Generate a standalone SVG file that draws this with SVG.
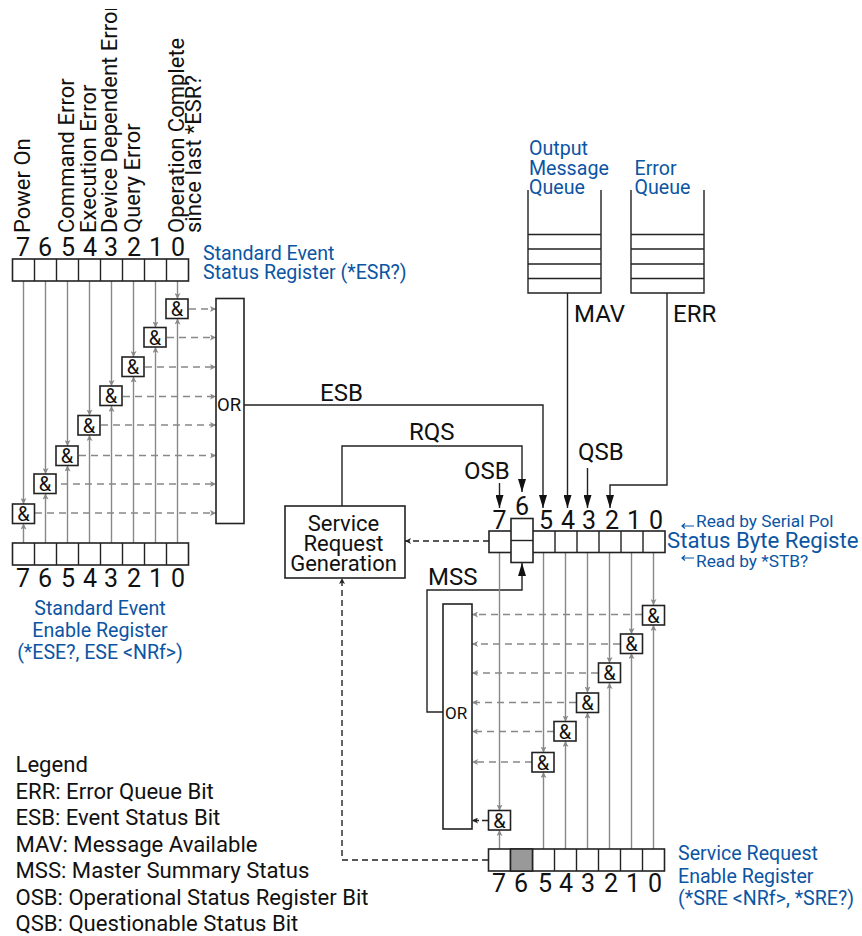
<svg xmlns="http://www.w3.org/2000/svg" width="862" height="936" viewBox="0 0 862 936">
<style>
text{font-family:Roboto,"Liberation Sans",sans-serif;fill:#111}
.n{font-size:25px;text-anchor:middle}
.v{font-size:22px}
.b{fill:#0b55a3;font-size:19.600px}
.l{font-size:22.100px}
.c{font-size:24px}
.s{font-size:22px;text-anchor:middle}
.a{font-size:20px;text-anchor:middle}
.box{fill:#fff;stroke:#222;stroke-width:1.6}
.g{fill:none;stroke:#888;stroke-width:1.4}
.d{fill:none;stroke:#888;stroke-width:1.4;stroke-dasharray:7 5}
.k{fill:none;stroke:#222;stroke-width:1.4}
.kd{fill:none;stroke:#222;stroke-width:1.4;stroke-dasharray:6 4}
</style>
<defs>
<marker id="ga" viewBox="0 0 6 6" refX="6" refY="3" markerWidth="6" markerHeight="6" markerUnits="userSpaceOnUse" orient="auto"><path d="M0 0L6 3L0 6L1.5 3Z" fill="#888"/></marker>
<marker id="ka" viewBox="0 0 6 6" refX="6" refY="3" markerWidth="6" markerHeight="6" markerUnits="userSpaceOnUse" orient="auto"><path d="M0 0L6 3L0 6L1.5 3Z" fill="#222"/></marker>
<marker id="kb" viewBox="0 0 13 8" refX="13" refY="4" markerWidth="13" markerHeight="8" markerUnits="userSpaceOnUse" orient="auto"><path d="M0 0L13 4L0 8Z" fill="#111"/></marker>
<clipPath id="top"><rect x="0" y="9" width="862" height="300"/></clipPath>
<g id="amp"><rect class="box" x="0" y="0" width="22" height="19.5"/><text x="11" y="17" class="a">&amp;</text></g>
<g id="reg"><rect class="box" x="0" y="0" width="176" height="22"/><path class="k" d="M22 0V22M44 0V22M66 0V22M88 0V22M110 0V22M132 0V22M154 0V22" stroke-width="1.6"/></g>
</defs>

<g id="connectors">
<path class="g" d="M23.500 281V504" marker-end="url(#ga)"/><path class="g" d="M45.500 281V474" marker-end="url(#ga)"/><path class="g" d="M67.500 281V446" marker-end="url(#ga)"/><path class="g" d="M89.500 281V415.500" marker-end="url(#ga)"/><path class="g" d="M111.500 281V386" marker-end="url(#ga)"/><path class="g" d="M133.500 281V357" marker-end="url(#ga)"/><path class="g" d="M155.500 281V327.500" marker-end="url(#ga)"/><path class="g" d="M177.500 281V299" marker-end="url(#ga)"/>
<path class="g" d="M23.500 543V523.500" marker-end="url(#ga)"/><path class="g" d="M45.500 543V493.500" marker-end="url(#ga)"/><path class="g" d="M67.500 543V465.500" marker-end="url(#ga)"/><path class="g" d="M89.500 543V435" marker-end="url(#ga)"/><path class="g" d="M111.500 543V406" marker-end="url(#ga)"/><path class="g" d="M133.500 543V376.500" marker-end="url(#ga)"/><path class="g" d="M155.500 543V347" marker-end="url(#ga)"/><path class="g" d="M177.500 543V318.500" marker-end="url(#ga)"/>
<path class="d" d="M189 309H216" marker-end="url(#ga)"/><path class="d" d="M167 337.500H216" marker-end="url(#ga)"/><path class="d" d="M145 367H216" marker-end="url(#ga)"/><path class="d" d="M123 396.500H216" marker-end="url(#ga)"/><path class="d" d="M101 425H216" marker-end="url(#ga)"/><path class="d" d="M79 455.500H216" marker-end="url(#ga)"/><path class="d" d="M61 484H216" marker-end="url(#ga)"/><path class="d" d="M35 513H216" marker-end="url(#ga)"/>

<path class="k" d="M244 405H543V508" marker-end="url(#kb)"/>
<path class="k" d="M342 506V446H522V492" marker-end="url(#kb)"/>
<path class="k" d="M499.500 483V508" marker-end="url(#kb)"/>
<path class="k" d="M567.500 293V508" marker-end="url(#kb)"/>
<path class="k" d="M587.500 468V508" marker-end="url(#kb)"/>
<path class="k" d="M667 293V485H610V508" marker-end="url(#kb)"/>
<path class="k" d="M443 712H427V590H522V563" marker-end="url(#kb)"/>
<path class="kd" d="M489 541H405" marker-end="url(#ka)"/>
<path class="kd" d="M488 860H342V578" marker-end="url(#ka)"/>

<path class="g" d="M499.500 552V810.500" marker-end="url(#ga)"/><path class="g" d="M543.500 552V752.500" marker-end="url(#ga)"/><path class="g" d="M565.500 552V721.500" marker-end="url(#ga)"/><path class="g" d="M587.500 552V692.500" marker-end="url(#ga)"/><path class="g" d="M609.500 552V663" marker-end="url(#ga)"/><path class="g" d="M631.500 552V634" marker-end="url(#ga)"/><path class="g" d="M653.500 552V605" marker-end="url(#ga)"/>
<path class="g" d="M499.500 849V830" marker-end="url(#ga)"/><path class="g" d="M543.500 849V772" marker-end="url(#ga)"/><path class="g" d="M565.500 849V741" marker-end="url(#ga)"/><path class="g" d="M587.500 849V712.500" marker-end="url(#ga)"/><path class="g" d="M609.500 849V683" marker-end="url(#ga)"/><path class="g" d="M631.500 849V653" marker-end="url(#ga)"/><path class="g" d="M653.500 849V625" marker-end="url(#ga)"/>
<path class="d" d="M642 614.500H472" marker-end="url(#ga)"/><path class="d" d="M620 644H472" marker-end="url(#ga)"/><path class="d" d="M598 673H472" marker-end="url(#ga)"/><path class="d" d="M576 702.500H472" marker-end="url(#ga)"/><path class="d" d="M554 731.500H472" marker-end="url(#ga)"/><path class="d" d="M532 762H472" marker-end="url(#ga)"/>
<path class="k" d="M488 820.500H472" stroke-dasharray="6 3" marker-end="url(#ka)"/>
</g>

<g id="esr-labels">
<g clip-path="url(#top)">
<text class="v" transform="translate(30,233) rotate(-90)">Power On</text>
<text class="v" transform="translate(74,233) rotate(-90)">Command Error</text>
<text class="v" transform="translate(96,233) rotate(-90)">Execution Error</text>
<text class="v" transform="translate(117,233) rotate(-90)">Device Dependent Error</text>
<text class="v" transform="translate(140,233) rotate(-90)">Query Error</text>
<text class="v" transform="translate(184,233) rotate(-90)">Operation Complete</text>
<text class="v" transform="translate(201,233) rotate(-90)">since last *ESR?</text>
</g>
</g>

<g id="esr-register">
<use href="#reg" x="12.500" y="259"/>
<text class="n" x="23" y="256">7</text><text class="n" x="45" y="256">6</text><text class="n" x="68" y="256">5</text><text class="n" x="90" y="256">4</text><text class="n" x="111" y="256">3</text><text class="n" x="134" y="256">2</text><text class="n" x="156" y="256">1</text><text class="n" x="178" y="256">0</text>
<text class="b" x="203" y="260">Standard Event</text><text class="b" x="203" y="279">Status Register (*ESR?)</text>
</g>
<g id="ese-register">
<use href="#reg" x="12.500" y="543"/>
<text class="n" x="23" y="587">7</text><text class="n" x="45" y="587">6</text><text class="n" x="68" y="587">5</text><text class="n" x="90" y="587">4</text><text class="n" x="111" y="587">3</text><text class="n" x="134" y="587">2</text><text class="n" x="156" y="587">1</text><text class="n" x="178" y="587">0</text>
<text class="b" x="100" y="615" text-anchor="middle">Standard Event</text><text class="b" x="100" y="637" text-anchor="middle">Enable Register</text><text class="b" x="100" y="659" text-anchor="middle">(*ESE?, ESE &lt;NRf&gt;)</text>
</g>
<g id="esr-and">
<use href="#amp" x="166" y="299"/><use href="#amp" x="144" y="327.500"/><use href="#amp" x="122" y="357"/><use href="#amp" x="100" y="386"/><use href="#amp" x="78" y="415.500"/><use href="#amp" x="56" y="446"/><use href="#amp" x="34" y="474"/><use href="#amp" x="12.500" y="504"/>
</g>
<g id="or-esb"><rect class="box" x="216" y="298.500" width="28" height="225"/><text x="217" y="411" font-size="18.500">OR</text></g>
<g id="service-request"><rect class="box" x="285" y="506" width="120" height="72"/>
<text x="343.500" y="531" class="s">Service</text><text x="343.500" y="551" class="s">Request</text><text x="343.500" y="571" class="s">Generation</text></g>
<g id="queue-output"><path class="k" stroke-width="1.6" d="M528 190V293H601V190M528 234.500H601M528 249H601M528 264H601M528 278.500H601"/>
<text class="b" x="529" y="155">Output</text><text class="b" x="529" y="175">Message</text><text class="b" x="529" y="194">Queue</text></g>
<g id="queue-error"><path class="k" stroke-width="1.6" d="M631 190V293H704V190M631 234.500H704M631 249H704M631 264H704M631 278.500H704"/>
<text class="b" x="634.500" y="175">Error</text><text class="b" x="634.500" y="194">Queue</text></g>
<g id="signal-labels">
<text class="c" x="574" y="322">MAV</text><text class="c" x="673" y="322">ERR</text>
<text class="c" x="320" y="401">ESB</text><text class="c" x="409" y="440">RQS</text><text class="c" x="464" y="479">OSB</text><text class="c" x="578" y="460">QSB</text><text class="c" x="428" y="585">MSS</text>
</g>
<g id="status-byte">
<rect class="box" x="489" y="531" width="176" height="21.500"/>
<path class="k" stroke-width="1.6" d="M555 531V552M577 531V552M599 531V552M621 531V552M643 531V552"/>
<rect class="box" x="511" y="518.500" width="22" height="44"/><path class="k" stroke-width="1.6" d="M511 540.500H533"/>
<text class="n" x="499.500" y="529">7</text><text class="n" x="522" y="515">6</text><text class="n" x="546" y="529">5</text><text class="n" x="568" y="529">4</text><text class="n" x="589" y="529">3</text><text class="n" x="612" y="529">2</text><text class="n" x="634" y="529">1</text><text class="n" x="656" y="529">0</text>
<text class="b" x="667" y="548" style="font-size:22.200px">Status Byte Registe</text>
<text class="b" x="696" y="527" style="font-size:17.300px">Read by Serial Pol</text>
<text class="b" x="696" y="567" style="font-size:17.300px">Read by *STB?</text>
<path fill="none" stroke="#0b55a3" stroke-width="1.200" d="M694 526H682M685 523.500L682 526L685 528.500M694 558H682M685 555.500L682 558L685 560.500"/>
</g>
<g id="sre-and">
<use href="#amp" x="642.500" y="605.500"/><use href="#amp" x="620.500" y="634"/><use href="#amp" x="598.500" y="663"/><use href="#amp" x="576.500" y="693"/><use href="#amp" x="554" y="721.500"/><use href="#amp" x="532" y="752.500"/><use href="#amp" x="488.500" y="810.500"/>
</g>
<g id="or-mss"><rect class="box" x="443" y="604" width="29" height="225"/><text x="445" y="719" style="font-size:17px">OR</text></g>
<g id="sre-register">
<use href="#reg" x="488.500" y="849"/><rect x="510.500" y="849" width="22" height="22" fill="#999" stroke="#222" stroke-width="1.600"/>
<text class="n" x="499" y="892">7</text><text class="n" x="521" y="892">6</text><text class="n" x="545" y="892">5</text><text class="n" x="566" y="892">4</text><text class="n" x="588" y="892">3</text><text class="n" x="611" y="892">2</text><text class="n" x="633" y="892">1</text><text class="n" x="655" y="892">0</text>
<text class="b" x="678" y="860">Service Request</text><text class="b" x="678" y="883">Enable Register</text><text class="b" x="678" y="905">(*SRE &lt;NRf&gt;, *SRE?)</text>
</g>
<g id="legend">
<text class="l" x="15.500" y="772">Legend</text><text class="l" x="15.500" y="799">ERR: Error Queue Bit</text><text class="l" x="15.500" y="825">ESB: Event Status Bit</text><text class="l" x="15.500" y="852">MAV: Message Available</text><text class="l" x="15.500" y="878">MSS: Master Summary Status</text><text class="l" x="15.500" y="905">OSB: Operational Status Register Bit</text><text class="l" x="15.500" y="931">QSB: Questionable Status Bit</text>
</g>
</svg>
